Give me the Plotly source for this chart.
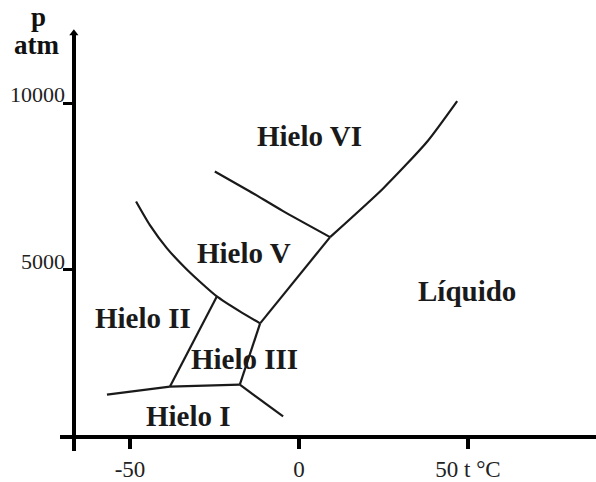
import plotly.graph_objects as go

# ---- data (t in °C, p in atm) ----
il_t = [-17.5, -4.7]
il_p = [1550, 600]
i3_t = [-38.2, -17.5]
i3_p = [1490, 1550]
i2_t = [-56.8, -38.2]
i2_p = [1250, 1490]
ii3_t = [-38.2, -24.3]
ii3_p = [1490, 4200]
iiil_t = [-17.5, -11.5]
iiil_p = [1550, 3390]
v_low_t = [-48.2, -44.1, -39.1, -33.7, -29.3, -24.3, -17.5, -11.5]
v_low_p = [7050, 6340, 5650, 5060, 4640, 4200, 3750, 3390]
vl_t = [-11.5, 9.2]
vl_p = [3390, 5980]
vvi_t = [-24.9, -14.5, -4.7, 9.2]
vvi_p = [7950, 7350, 6760, 5980]
vil_t = [9.2, 24.9, 37.9, 46.8]
vil_p = [5980, 7440, 8840, 10060]

curves = [(il_t, il_p), (i3_t, i3_p), (i2_t, i2_p), (ii3_t, ii3_p),
          (iiil_t, iiil_p), (v_low_t, v_low_p), (vl_t, vl_p),
          (vvi_t, vvi_p), (vil_t, vil_p)]

region_names = ["Hielo VI", "Líquido", "Hielo V", "Hielo II", "Hielo III", "Hielo I"]
region_t = [3.0, 49.7, -16.3, -46.2, -16.0, -32.8]
region_p = [9100, 4460, 5590, 3630, 2410, 690]

x_ticks = [-50, 0, 50]
x_tick_text = ["-50", "0", "50 t °C"]
y_ticks = [5000, 10000]
y_tick_text = ["5000", "10000"]

W, H = 596, 482
serif = "Liberation Serif"

fig = go.Figure()
for t, p in curves:
    fig.add_trace(go.Scatter(x=t, y=p, mode="lines",
                             line=dict(color="#1a1a1a", width=2.2, shape="spline", smoothing=0.6),
                             hoverinfo="skip", showlegend=False))

# arrow head on top of p axis
fig.add_trace(go.Scatter(x=[-66.6], y=[12100], mode="markers",
                         marker=dict(symbol="triangle-up", size=8, color="black"),
                         cliponaxis=False, showlegend=False, hoverinfo="skip"))

for name, t, p in zip(region_names, region_t, region_p):
    fig.add_annotation(x=t, y=p, text=name, showarrow=False,
                       xanchor="center", yanchor="middle", yshift=-3,
                       font=dict(family=serif, size=29, color="#1a1a1a", weight="bold"))

for v, txt in zip(y_ticks, y_tick_text):
    fig.add_annotation(x=-68.6, y=v, text=txt, showarrow=False,
                       xanchor="right", yanchor="bottom", yshift=-6,
                       font=dict(family=serif, size=22, color="#222"))

fig.add_annotation(xref="paper", yref="paper", x=38 / W, y=1 - 17 / H, text="<b>p</b>",
                   showarrow=False, xanchor="center", yanchor="middle",
                   font=dict(family=serif, size=27, color="#111"))
fig.add_annotation(xref="paper", yref="paper", x=36 / W, y=1 - 45 / H, text="<b>atm</b>",
                   showarrow=False, xanchor="center", yanchor="middle",
                   font=dict(family=serif, size=27, color="#111"))

fig.update_layout(
    width=W, height=H, margin=dict(l=0, r=0, t=0, b=0),
    paper_bgcolor="white", plot_bgcolor="white",
    xaxis=dict(domain=[60 / W, 1], range=[-70.7, 87.87],
               anchor="free", position=41 / H,
               showline=True, linecolor="black", linewidth=4,
               showgrid=False, zeroline=False,
               tickmode="array", tickvals=x_ticks, ticktext=x_tick_text,
               ticks="outside", ticklen=10, tickwidth=4, tickcolor="black",
               tickfont=dict(family=serif, size=23, color="#222")),
    yaxis=dict(domain=[27 / H, 450 / H], range=[-446, 12143],
               anchor="free", position=74 / W,
               showline=True, linecolor="black", linewidth=4,
               showgrid=False, zeroline=False,
               tickmode="array", tickvals=y_ticks, showticklabels=False,
               ticks="outside", ticklen=9, tickwidth=3, tickcolor="black"),
)

fig.write_html("out.html", config={"displayModeBar": False},
               post_script="document.body.style.margin='0';")
